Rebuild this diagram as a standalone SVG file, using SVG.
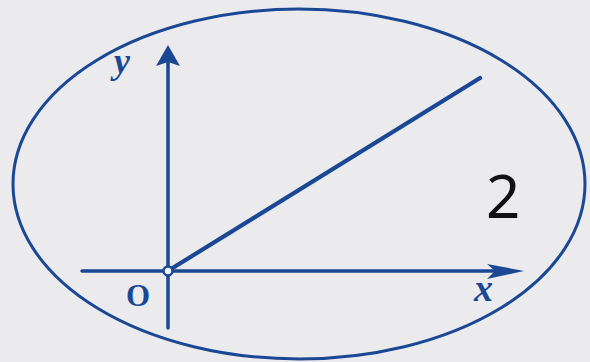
<svg xmlns="http://www.w3.org/2000/svg" width="590" height="362" viewBox="0 0 590 362">
<style>
.ln{stroke:#1b4894;fill:none;stroke-width:3.5;stroke-linecap:round}
.ah{fill:#1b4894;stroke:none}
.lb{fill:#1b4894;font-family:"Liberation Serif",serif;font-weight:bold}
</style>
<rect width="590" height="362" fill="#ebebee"/>
<g id="ellipse"><ellipse class="ln" cx="299" cy="184" rx="286" ry="175" style="stroke-width:3"/></g>
<g id="connectors">
<line class="ln" x1="168" y1="328" x2="168" y2="60"/>
<polygon class="ah" points="168,45 180,66 168,62 156,66"/>
<line class="ln" x1="82" y1="271" x2="505" y2="271"/>
<polygon class="ah" points="524,271 487,279 495,271 487,264"/>
<line class="ln" x1="171" y1="269" x2="480" y2="78" style="stroke-width:4.2"/>
</g>
<g id="origin"><circle cx="168" cy="271" r="4.5" fill="#f2f4f8" stroke="#1b4894" stroke-width="2.5"/></g>
<g id="labels">
<text class="lb" x="114" y="73" font-size="36" font-style="italic">y</text>
<text class="lb" x="138" y="306" font-size="31" text-anchor="middle">O</text>
<text class="lb" x="474" y="301" font-size="38" font-style="italic">x</text>
<text x="486" y="218" font-family="Noto Sans, sans-serif" font-size="60" fill="#111">2</text>
</g>
</svg>
